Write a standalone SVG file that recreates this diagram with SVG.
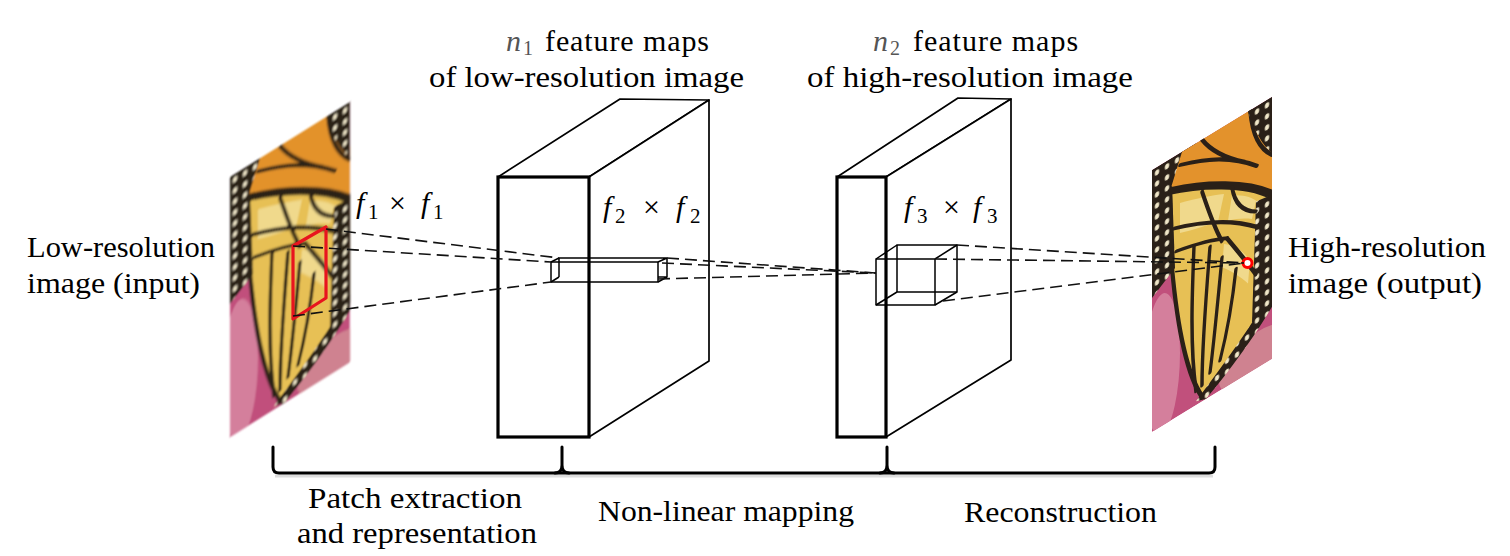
<svg xmlns="http://www.w3.org/2000/svg" width="1510" height="556" viewBox="0 0 1510 556">
<style>
.lbl{font-family:"Liberation Serif","Times New Roman",serif;font-size:30px;fill:#000}
.it{font-style:italic}
.sub{font-size:21px;font-style:normal}
.hsub{font-size:20px;font-style:normal}
.face{fill:#fff;stroke:#000;stroke-width:1.7;stroke-linejoin:round}
.front{fill:#fff;stroke:#000;stroke-width:3.2}
.wire{fill:none;stroke:#000;stroke-width:1.5;stroke-linejoin:round}
.dash{fill:none;stroke:#111;stroke-width:1.6;stroke-dasharray:12 6}
.brace{fill:none;stroke:#000;stroke-width:3;stroke-linecap:round;stroke-linejoin:round}
.vein{fill:none;stroke:#2a2018;stroke-width:3.5;stroke-linecap:round}
</style>
<defs>
<pattern id="spots" width="10" height="11" patternUnits="userSpaceOnUse">
<rect width="10" height="11" fill="#2a2018"/>
<ellipse cx="5" cy="5.5" rx="2.2" ry="2.7" fill="#efe6c8"/>
</pattern>
<clipPath id="bclip"><rect width="120" height="262"/></clipPath>
<filter id="soft"><feGaussianBlur stdDeviation="0.9"/></filter>
<g id="bfly" clip-path="url(#bclip)">
<rect width="120" height="262" fill="#c1507c"/>
<ellipse cx="10" cy="200" rx="18" ry="70" fill="#d47f9c"/>
<ellipse cx="105" cy="252" rx="38" ry="26" fill="#cf8290"/>
<path d="M0,0 H45 L30,28 L0,40 Z" fill="url(#spots)"/>
<path d="M30,0 H98 L120,45 V98 C98,78 60,52 18,32 Z" fill="#e3922c"/>
<path d="M50,0 C58,15 70,30 92,48 M28,12 C55,22 80,35 105,60 M98,0 C100,25 108,45 120,58" class="vein"/>
<path d="M96,0 H120 V56 C110,42 102,22 96,0 Z" fill="url(#spots)"/>
<path d="M18,32 C50,44 95,70 120,98 V200 C100,222 75,240 50,257 C36,228 26,180 20,110 Z" fill="#e7c055" stroke="#2a2018" stroke-width="4"/>
<path d="M28,50 C45,56 60,62 72,68 L66,92 C52,88 38,84 28,80 Z" fill="#f0d98c"/>
<path d="M80,74 C90,80 98,86 104,94 L100,110 C92,104 84,100 76,97 Z" fill="#f0d98c"/>
<path d="M72,118 C82,125 90,135 98,150 L96,172 C88,160 78,148 70,140 Z" fill="#f0d98c"/>
<path d="M18,32 C50,44 95,70 120,98" fill="none" stroke="#2a2018" stroke-width="7"/>
<path d="M0,36 L20,28 L23,112 L0,128 Z" fill="url(#spots)"/>
<path d="M104,95 L120,98 V205 L100,214 Z" fill="url(#spots)"/>
<path d="M120,194 C98,218 72,238 44,258 L54,262 C78,248 104,228 120,210 Z" fill="url(#spots)"/>
<g class="vein">
<path d="M22,72 C50,82 80,98 106,122"/>
<path d="M50,52 C55,70 62,95 70,114"/>
<path d="M80,66 C82,80 88,95 104,105"/>
<path d="M24,96 C45,101 60,106 75,114"/>
<path d="M75,114 C85,132 95,150 104,168"/>
<path d="M42,102 C40,150 38,200 44,248"/>
<path d="M58,112 C54,160 50,205 50,246"/>
<path d="M70,130 C66,170 62,210 58,238"/>
<path d="M84,150 C80,185 74,212 68,232"/>
</g>
</g>
</defs>
<rect width="1510" height="556" fill="#fff"/>

<g id="input-image">
<g transform="matrix(1,-0.625,0,1,230,177)" filter="url(#soft)"><use href="#bfly" transform="scale(1,0.993)"/></g>
<polygon points="293,246 326,227 326,298 293,319" fill="none" stroke="#e8141e" stroke-width="3.2" stroke-linejoin="round"/>
</g>

<g id="block1">
<polygon class="face" points="498,177 620,99 709,100 589,177"/>
<polygon class="face" points="589,177 709,100 709,361 589,437"/>
<rect class="front" x="498" y="177" width="91" height="260"/>
<g class="wire">
<rect x="551" y="262" width="107" height="20"/>
<path d="M559,277 V258 H667 V277 H658 M551,262 L559,258 M658,262 L667,258 M658,282 L667,277 M551,282 L559,277"/>
</g>
</g>

<g id="block2">
<polygon class="face" points="837,177 958,98 1011,99 886,177"/>
<polygon class="face" points="886,177 1011,99 1011,360 886,437"/>
<rect class="front" x="837" y="177" width="49" height="260"/>
<g class="wire">
<rect x="897" y="245" width="60" height="47"/>
<rect x="876" y="259" width="59" height="46"/>
<path d="M876,259 L897,245 M935,259 L957,245 M935,305 L957,292 M876,305 L897,292"/>
</g>
</g>

<g id="output-image">
<g transform="matrix(1,-0.61,0,1,1152,170)"><use href="#bfly"/></g>
<circle cx="1247.5" cy="263" r="4.5" fill="#fff" stroke="#f00" stroke-width="3"/>
</g>

<g id="connectors">
<path class="dash" d="M326,229 L559,258"/>
<path class="dash" d="M293,246 L551,262"/>
<path class="dash" d="M293,316 L551,282"/>
<path class="dash" d="M667,258 L876,273"/>
<path class="dash" d="M662,263 L876,273"/>
<path class="dash" d="M658,279 L876,273"/>
<path class="dash" d="M957,245 L1244,263"/>
<path class="dash" d="M935,259 L1244,263"/>
<path class="dash" d="M943,301 L1244,263"/>
</g>

<g id="braces">
<path d="M275,476 H1213" fill="none" stroke="#bbb" stroke-width="3" opacity="0.5"/>
<path class="brace" d="M273,447 V467 Q273,473 279,473 H1209 Q1215,473 1215,467 V447"/>
<path class="brace" d="M562,447 V470 M555,473 Q562,473 562,465 Q562,473 569,473"/>
<path class="brace" d="M887,447 V470 M880,473 Q887,473 887,465 Q887,473 894,473"/>
</g>

<g id="labels">
<text class="lbl" x="27" y="257" textLength="188" lengthAdjust="spacingAndGlyphs">Low-resolution</text>
<text class="lbl" x="27" y="293" textLength="173" lengthAdjust="spacingAndGlyphs">image (input)</text>
<text class="lbl" x="1288" y="257" textLength="198" lengthAdjust="spacingAndGlyphs">High-resolution</text>
<text class="lbl" x="1288" y="293" textLength="194" lengthAdjust="spacingAndGlyphs">image (output)</text>

<text class="lbl" x="506" y="51"><tspan class="it" fill="#555">n</tspan><tspan class="hsub" fill="#555" dx="2" dy="4">1</tspan><tspan x="545" dy="-4" letter-spacing="0.9">feature maps</tspan></text>
<text class="lbl" x="429" y="87" textLength="315" lengthAdjust="spacingAndGlyphs">of low-resolution image</text>

<text class="lbl" x="873" y="51"><tspan class="it" fill="#555">n</tspan><tspan class="hsub" fill="#555" dx="2" dy="4">2</tspan><tspan x="913" dy="-4" letter-spacing="1">feature maps</tspan></text>
<text class="lbl" x="807" y="87" textLength="326" lengthAdjust="spacingAndGlyphs">of high-resolution image</text>

<text class="lbl" x="356" y="213"><tspan class="it">f</tspan><tspan class="sub" x="368" dy="6">1</tspan><tspan x="389" dy="-6">×</tspan><tspan class="it" x="421">f</tspan><tspan class="sub" x="433" dy="6">1</tspan></text>
<text class="lbl" x="603" y="217"><tspan class="it">f</tspan><tspan class="sub" x="615" dy="6">2</tspan><tspan x="643" dy="-6">×</tspan><tspan class="it" x="676">f</tspan><tspan class="sub" x="690" dy="6">2</tspan></text>
<text class="lbl" x="904" y="217"><tspan class="it">f</tspan><tspan class="sub" x="917" dy="6">3</tspan><tspan x="943" dy="-6">×</tspan><tspan class="it" x="973">f</tspan><tspan class="sub" x="987" dy="6">3</tspan></text>

<text class="lbl" x="308" y="508" textLength="214" lengthAdjust="spacingAndGlyphs">Patch extraction</text>
<text class="lbl" x="297" y="543" textLength="240" lengthAdjust="spacingAndGlyphs">and representation</text>
<text class="lbl" x="598" y="521" textLength="256" lengthAdjust="spacingAndGlyphs">Non-linear mapping</text>
<text class="lbl" x="964" y="522" textLength="193" lengthAdjust="spacingAndGlyphs">Reconstruction</text>
</g>
</svg>
